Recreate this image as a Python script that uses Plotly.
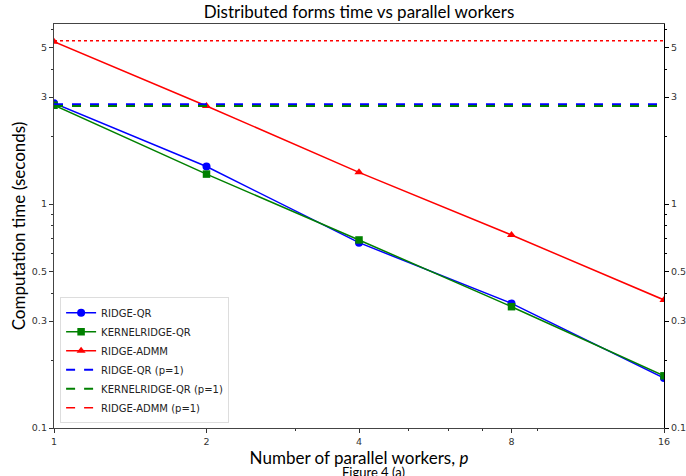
import plotly.graph_objects as go

# Parallel worker counts and measured computation times (seconds)
workers = [1, 2, 4, 8, 16]
ridge_qr = [2.82, 1.47, 0.672, 0.360, 0.167]
kernelridge_qr = [2.76, 1.36, 0.691, 0.348, 0.171]
ridge_admm = [5.30, 2.74, 1.385, 0.727, 0.373]

# Single-worker reference times
ridge_qr_p1 = 2.79
kernelridge_qr_p1 = 2.74
ridge_admm_p1 = 5.36

y_ticks = [0.1, 0.3, 0.5, 1, 3, 5]
y_tick_text = ["0.1", "0.3", "0.5", "1", "3", "5"]
y_minor = [0.2, 0.4, 0.6, 0.7, 0.8, 0.9, 2, 4, 6]
x_ticks = [1, 2, 4, 8, 16]
x_minor = [3, 5, 6, 7, 9]

BLUE, GREEN, RED = "#0000ff", "#008000", "#ff0000"
TICK_FONT = dict(family="DejaVu Sans", size=9.5, color="#333")
LABEL_FONT = "Lato"

fig = go.Figure()

x_span = [workers[0], workers[-1]]

fig.add_trace(go.Scatter(x=workers, y=ridge_qr, name="RIDGE-QR", mode="lines+markers",
                         line=dict(color=BLUE, width=1.5),
                         marker=dict(symbol="circle", size=8, color=BLUE)))
fig.add_trace(go.Scatter(x=workers, y=kernelridge_qr, name="KERNELRIDGE-QR", mode="lines+markers",
                         line=dict(color=GREEN, width=1.5),
                         marker=dict(symbol="square", size=7.5, color=GREEN)))
fig.add_trace(go.Scatter(x=workers, y=ridge_admm, name="RIDGE-ADMM", mode="lines+markers",
                         line=dict(color=RED, width=1.5),
                         marker=dict(symbol="triangle-up", size=8, color=RED)))

fig.add_trace(go.Scatter(x=x_span, y=[ridge_qr_p1] * 2, name="RIDGE-QR (p=1)", mode="lines",
                         line=dict(color=BLUE, width=2, dash="dash")))
fig.add_trace(go.Scatter(x=x_span, y=[kernelridge_qr_p1] * 2, name="KERNELRIDGE-QR (p=1)", mode="lines",
                         line=dict(color=GREEN, width=2, dash="dash")))
# drawn dotted, listed in the legend as dashed
fig.add_trace(go.Scatter(x=x_span, y=[ridge_admm_p1] * 2, mode="lines", showlegend=False,
                         line=dict(color=RED, width=1.5, dash="dot")))
fig.add_trace(go.Scatter(x=[None], y=[None], name="RIDGE-ADMM (p=1)", mode="lines",
                         line=dict(color=RED, width=1.5, dash="dash")))

# mirror trace for the right-hand axis
fig.add_trace(go.Scatter(x=x_span, y=[ridge_admm_p1] * 2, yaxis="y2", mode="lines",
                         showlegend=False, hoverinfo="skip",
                         line=dict(color="rgba(0,0,0,0)", width=0)))

y_range = [-1, 0.8036]

fig.update_layout(
    width=686, height=476,
    margin=dict(l=54, r=22, t=24, b=48),
    paper_bgcolor="white", plot_bgcolor="white",
    title=dict(text="Distributed forms time vs parallel workers", x=0.5234, xanchor="center",
               y=0.975, yanchor="middle", font=dict(family=LABEL_FONT, size=17, color="black")),
    xaxis=dict(type="log", range=[0, 1.20412], tickvals=x_ticks, ticktext=[str(v) for v in x_ticks],
               ticks="outside", ticklen=4, tickcolor="#333", tickfont=TICK_FONT,
               showline=True, linecolor="#444", linewidth=1.3, mirror=True,
               showgrid=False, zeroline=False, automargin=False,
               minor=dict(tickvals=x_minor, ticks="outside", ticklen=2, tickcolor="#333"),
               title=dict(text="Number of parallel workers, <i>p</i>",
                          font=dict(family=LABEL_FONT, size=17, color="black"), standoff=2)),
    yaxis=dict(type="log", range=y_range, tickvals=y_ticks, ticktext=y_tick_text,
               ticks="outside", ticklen=4, tickcolor="#333", tickfont=TICK_FONT,
               showline=True, linecolor="#444", linewidth=1.3,
               showgrid=False, zeroline=False, automargin=False,
               minor=dict(tickvals=y_minor, ticks="outside", ticklen=2, tickcolor="#333"),
               title=dict(text="Computation time (seconds)",
                          font=dict(family=LABEL_FONT, size=17, color="black"), standoff=1)),
    yaxis2=dict(type="log", range=y_range, overlaying="y", side="right",
                tickvals=y_ticks, ticktext=y_tick_text,
                ticks="outside", ticklen=4, tickcolor="#000", tickfont=TICK_FONT,
                showline=True, linecolor="#000", linewidth=1.3,
                showgrid=False, zeroline=False, automargin=False,
                minor=dict(tickvals=y_minor, ticks="outside", ticklen=2, tickcolor="#000")),
    legend=dict(x=0.01, y=0.012, xanchor="left", yanchor="bottom",
                bgcolor="rgba(255,255,255,0.9)", bordercolor="#ddd", borderwidth=1,
                font=dict(family="DejaVu Sans", size=10, color="#222"),
                tracegroupgap=0, itemwidth=30),
    annotations=[dict(text="Figure 4 (a)", xref="paper", yref="paper", x=0.5234, y=-0.083,
                      xanchor="center", yanchor="top", showarrow=False,
                      font=dict(family=LABEL_FONT, size=13, color="black"))],
)

fig.write_html("out.html")
